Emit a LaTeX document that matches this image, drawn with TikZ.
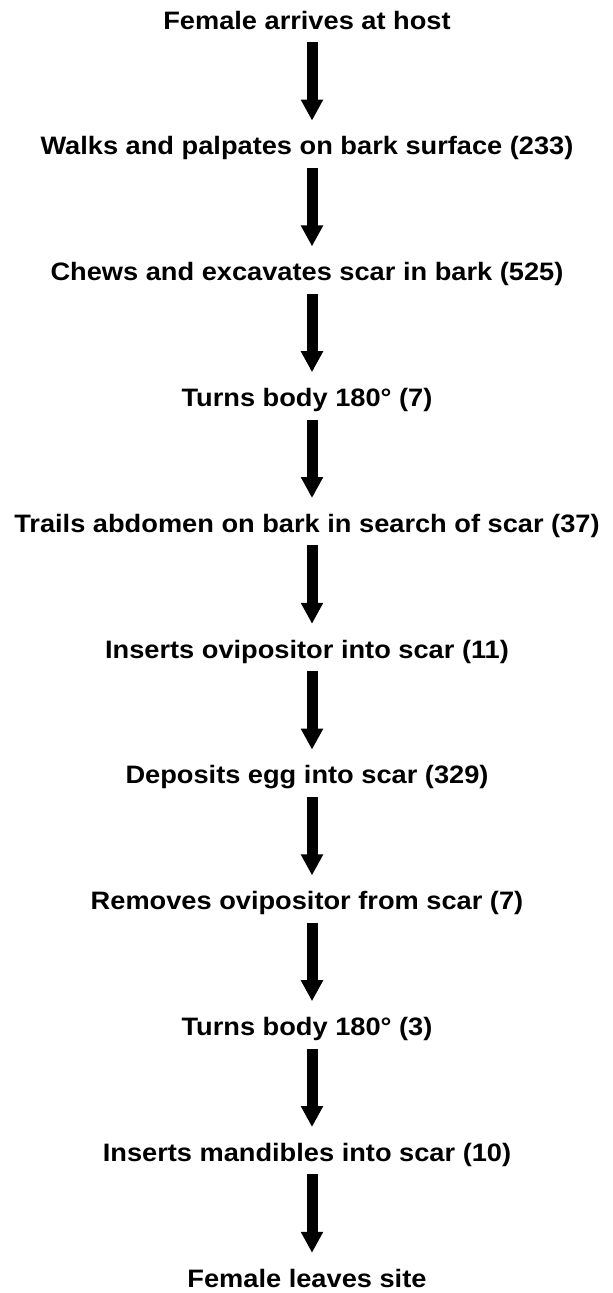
\documentclass[tikz,border=0pt]{standalone}
\usepackage{fontspec}
\setmainfont{Liberation Sans}[FakeStretch=1.08]
\usetikzlibrary{arrows.meta}
\tikzset{
  stage/.style={anchor=base, inner sep=0pt, text height=18pt, text depth=0pt,
    font=\fontsize{25.2pt}{28pt}\selectfont\bfseries},
  bigarrow/.style={line width=11pt, -{Triangle[width=21pt,length=21pt]},
    shorten <=13pt, shorten >=16pt}
}
\begin{document}
\begin{tikzpicture}[x=1pt,y=1pt]
\useasboundingbox (0,0) rectangle (613,-1293);
\node[stage] (n0) at (307,-29) {Female arrives at host};
\node[stage] (n1) at (307,-154.8) {Walks and palpates on bark surface (233)};
\node[stage] (n2) at (307,-280.6) {Chews and excavates scar in bark (525)};
\node[stage] (n3) at (307,-406.4) {Turns body 180° (7)};
\node[stage] (n4) at (307,-532.2) {Trails abdomen on bark in search of scar (37)};
\node[stage] (n5) at (307,-658) {Inserts ovipositor into scar (11)};
\node[stage] (n6) at (307,-783.8) {Deposits egg into scar (329)};
\node[stage] (n7) at (307,-909.6) {Removes ovipositor from scar (7)};
\node[stage] (n8) at (307,-1035.4) {Turns body 180° (3)};
\node[stage] (n9) at (307,-1161.2) {Inserts mandibles into scar (10)};
\node[stage] (n10) at (307,-1287) {Female leaves site};
\foreach \a/\b in {n0/n1,n1/n2,n2/n3,n3/n4,n4/n5,n5/n6,n6/n7,n7/n8,n8/n9,n9/n10}
  \draw[bigarrow] ([xshift=5pt]\a.south) -- ([xshift=5pt]\b.north);
\end{tikzpicture}
\end{document}
